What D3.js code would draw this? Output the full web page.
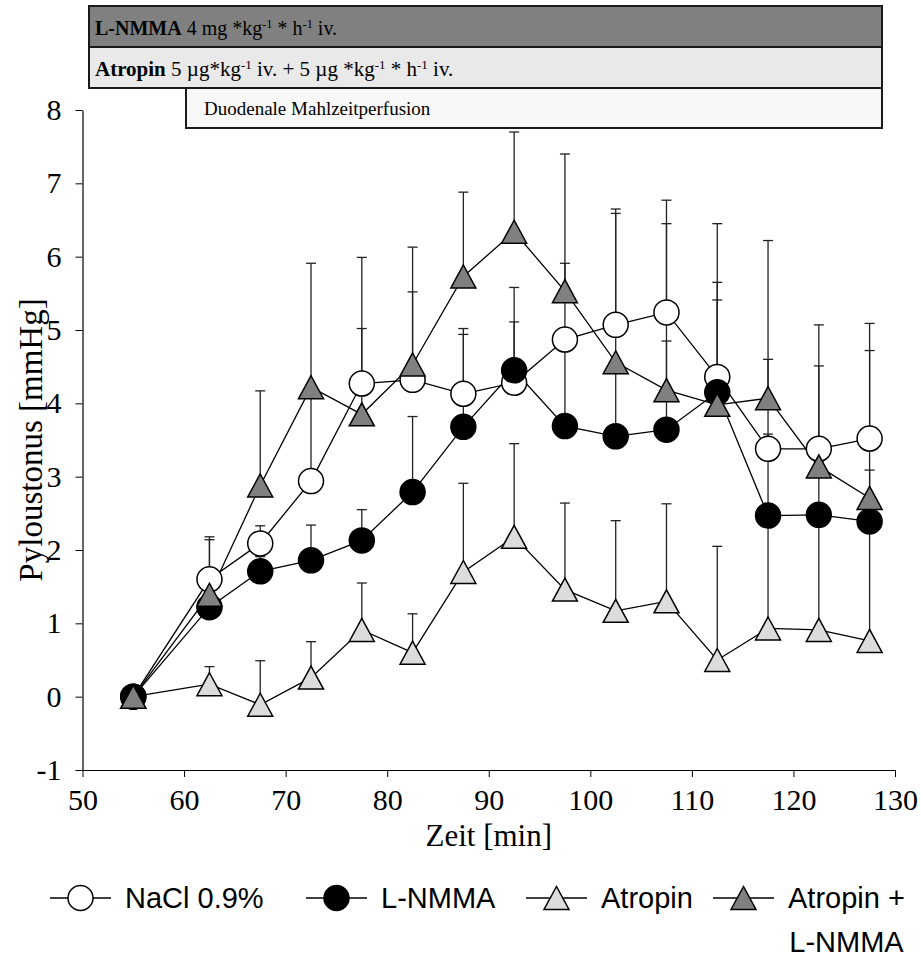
<!DOCTYPE html>
<html>
<head>
<meta charset="utf-8">
<script src="https://cdn.jsdelivr.net/npm/d3@7"></script>
<style>
  body { margin: 0; background: #fff; }
  svg { display: block; }
</style>
</head>
<body>
<div id="chart"></div>
<script>
var width = 921;
var height = 963;

// Zeitpunkte [min]
var zeit = [55, 62.5, 67.5, 72.5, 77.5, 82.5, 87.5, 92.5, 97.5, 102.5, 107.5, 112.5, 117.5, 122.5, 127.5];

// Mittelwerte Pyloustonus [mmHg]
var nacl      = [0, 1.60, 2.09, 2.94, 4.27, 4.32, 4.13, 4.28, 4.87, 5.07, 5.24, 4.36, 3.38, 3.38, 3.52];
var lnmma     = [0, 1.22, 1.71, 1.86, 2.13, 2.79, 3.68, 4.45, 3.69, 3.55, 3.64, 4.15, 2.47, 2.48, 2.39];
var atropin   = [0, 0.17, -0.11, 0.26, 0.91, 0.60, 1.70, 2.18, 1.46, 1.17, 1.30, 0.50, 0.93, 0.91, 0.76];
var atrLnmma  = [0, 1.39, 2.88, 4.22, 3.85, 4.53, 5.73, 6.34, 5.53, 4.56, 4.18, 3.98, 4.07, 3.14, 2.71];

// Fehlerbalken (nur nach oben)
var naclErr     = [0, 0.58, 0.24, 1.16, 0.75, 1.20, 0.89, 0.83, 1.04, 1.58, 1.21, 2.09, 1.22, 1.69, 1.57];
var lnmmaErr    = [0, 0.92, 0.20, 0.48, 0.42, 1.03, 1.26, 1.13, 1.21, 0.95, 1.21, 1.26, 1.11, 0.72, 2.33];
var atropinErr  = [0, 0.24, 0.60, 0.49, 0.64, 0.53, 1.21, 1.27, 1.18, 1.23, 1.33, 1.55, 1.47, 1.49, 1.54];
var atrLnmmaErr = [0, 0.11, 1.29, 1.69, 2.14, 1.60, 1.15, 1.36, 1.87, 2.03, 2.59, 1.67, 2.15, 1.37, 0.38];

var xTicks = [50, 60, 70, 80, 90, 100, 110, 120, 130];
var yTicks = [-1, 0, 1, 2, 3, 4, 5, 6, 7, 8];

var series = [
  { name: "NaCl 0.9%", values: nacl, err: naclErr, shape: "circle", fill: "#ffffff" },
  { name: "L-NMMA", values: lnmma, err: lnmmaErr, shape: "circle", fill: "#000000" },
  { name: "Atropin", values: atropin, err: atropinErr, shape: "triangle", fill: "#dcdcdc" },
  { name: "Atropin +", name2: "L-NMMA", values: atrLnmma, err: atrLnmmaErr, shape: "triangle", fill: "#808080" }
];

var serif = "'Liberation Serif', 'Times New Roman', serif";
var sans = "'Liberation Sans', Arial, sans-serif";

var svg = d3.select("#chart")
  .append("svg")
  .attr("width", width)
  .attr("height", height);

var x = d3.scaleLinear().domain([50, 130]).range([82.5, 895]);
var y = d3.scaleLinear().domain([-1, 8]).range([770, 110]);

// Balken oben (Behandlungen)
var boxes = svg.append("g");
boxes.append("rect").attr("x", 89).attr("y", 6).attr("width", 793).attr("height", 41)
  .attr("fill", "#808080").attr("stroke", "#1a1a1a").attr("stroke-width", 2);
boxes.append("rect").attr("x", 89).attr("y", 47).attr("width", 793).attr("height", 41)
  .attr("fill", "#e9e9e9").attr("stroke", "#1a1a1a").attr("stroke-width", 2);
boxes.append("rect").attr("x", 186).attr("y", 88).attr("width", 696).attr("height", 40)
  .attr("fill", "#f8f8f8").attr("stroke", "#1a1a1a").attr("stroke-width", 2);

function supText(g, xPos, yPos, parts, size) {
  var t = g.append("text").attr("x", xPos).attr("y", yPos)
    .attr("font-family", serif).attr("font-size", size).attr("fill", "#000");
  parts.forEach(function(p) {
    var ts = t.append("tspan").text(p.t);
    if (p.b) ts.attr("font-weight", "bold");
    if (p.sup) ts.attr("font-size", size * 0.62).attr("baseline-shift", "super");
  });
  return t;
}

supText(boxes, 95, 35, [
  { t: "L-NMMA", b: true }, { t: " 4 mg *kg" }, { t: "-1", sup: true },
  { t: " * h" }, { t: "-1", sup: true }, { t: " iv." }
], 20);

supText(boxes, 95, 76, [
  { t: "Atropin", b: true }, { t: " 5 \u00b5g*kg" }, { t: "-1", sup: true },
  { t: " iv. + 5 \u00b5g *kg" }, { t: "-1", sup: true }, { t: " * h" },
  { t: "-1", sup: true }, { t: " iv." }
], 21);

boxes.append("text").attr("x", 204).attr("y", 115)
  .attr("font-family", serif).attr("font-size", 19).text("Duodenale Mahlzeitperfusion");

// Achsen
var xAxis = svg.append("g")
  .attr("transform", "translate(0," + y(-1) + ")")
  .call(d3.axisBottom(x).tickValues(xTicks).tickSize(7).tickSizeOuter(0).tickPadding(6)
    .tickFormat(function(d) { return String(d); }));
var yAxis = svg.append("g")
  .attr("transform", "translate(" + x(50) + ",0)")
  .call(d3.axisLeft(y).tickValues(yTicks).tickSize(7).tickSizeOuter(0).tickPadding(14)
    .tickFormat(function(d) { return String(d); }));

[xAxis, yAxis].forEach(function(a) {
  a.attr("font-family", serif).attr("font-size", 30);
  a.selectAll("text").attr("font-family", serif).attr("font-size", 30).attr("fill", "#000");
  a.selectAll("line").attr("stroke", "#000");
  a.select(".domain").attr("stroke", "#000").attr("stroke-width", 1.2);
});
xAxis.selectAll("text").attr("dy", "0.9em");

svg.append("text").attr("x", x(90)).attr("y", 846).attr("text-anchor", "middle")
  .attr("font-family", serif).attr("font-size", 31).text("Zeit [min]");

svg.append("text")
  .attr("transform", "translate(30," + y(3.5) + ") rotate(-90)")
  .attr("text-anchor", "middle").attr("dy", "0.35em")
  .attr("font-family", serif).attr("font-size", 33).text("Pyloustonus [mmHg]");

// Fehlerbalken
var capW = 5;
series.forEach(function(s) {
  var g = svg.append("g");
  zeit.forEach(function(t, i) {
    if (s.err[i] <= 0) return;
    var top = y(s.values[i] + s.err[i]);
    g.append("line").attr("x1", x(t)).attr("x2", x(t))
      .attr("y1", y(s.values[i])).attr("y2", top)
      .attr("stroke", "#222").attr("stroke-width", 1.3);
    g.append("line").attr("x1", x(t) - capW).attr("x2", x(t) + capW)
      .attr("y1", top).attr("y2", top)
      .attr("stroke", "#222").attr("stroke-width", 1.3);
  });
});

// Linien
var line = d3.line()
  .x(function(d, i) { return x(zeit[i]); })
  .y(function(d) { return y(d); });

series.forEach(function(s) {
  svg.append("path").datum(s.values)
    .attr("d", line)
    .attr("fill", "none").attr("stroke", "#000").attr("stroke-width", 1.3);
});

// Marker
var triW = 25, triH = 23, rad = 12.5;
function drawMarker(g, s, cx, cy) {
  if (s.shape === "circle") {
    g.append("circle").attr("cx", cx).attr("cy", cy).attr("r", rad)
      .attr("fill", s.fill).attr("stroke", "#000").attr("stroke-width", 1.5);
  } else {
    var pts = [[cx, cy - triH / 2], [cx - triW / 2, cy + triH / 2], [cx + triW / 2, cy + triH / 2]];
    g.append("path").attr("d", "M" + pts.join("L") + "Z")
      .attr("fill", s.fill).attr("stroke", "#000").attr("stroke-width", 1.5)
      .attr("stroke-linejoin", "miter");
  }
}

series.forEach(function(s) {
  var g = svg.append("g");
  s.values.forEach(function(v, i) {
    drawMarker(g, s, x(zeit[i]), y(v));
  });
});

// Legende
var legendY = 898;
var legendX = [50, 306, 526, 713];
series.forEach(function(s, i) {
  var g = svg.append("g").attr("transform", "translate(" + legendX[i] + "," + legendY + ")");
  g.append("line").attr("x1", 0).attr("x2", 61).attr("y1", 0).attr("y2", 0)
    .attr("stroke", "#000").attr("stroke-width", 1.3);
  drawMarker(g, s, 30.5, 0);
  var t1 = g.append("text").attr("x", 75).attr("y", 0).attr("dy", "0.35em")
    .attr("font-family", sans).attr("font-size", 29).text(s.name);
  if (s.name2) {
    var w = t1.node().getComputedTextLength();
    g.append("text").attr("x", 75 + w / 2).attr("y", 44).attr("dy", "0.35em")
      .attr("text-anchor", "middle")
      .attr("font-family", sans).attr("font-size", 29).text(s.name2);
  }
});
</script>
</body>
</html>
